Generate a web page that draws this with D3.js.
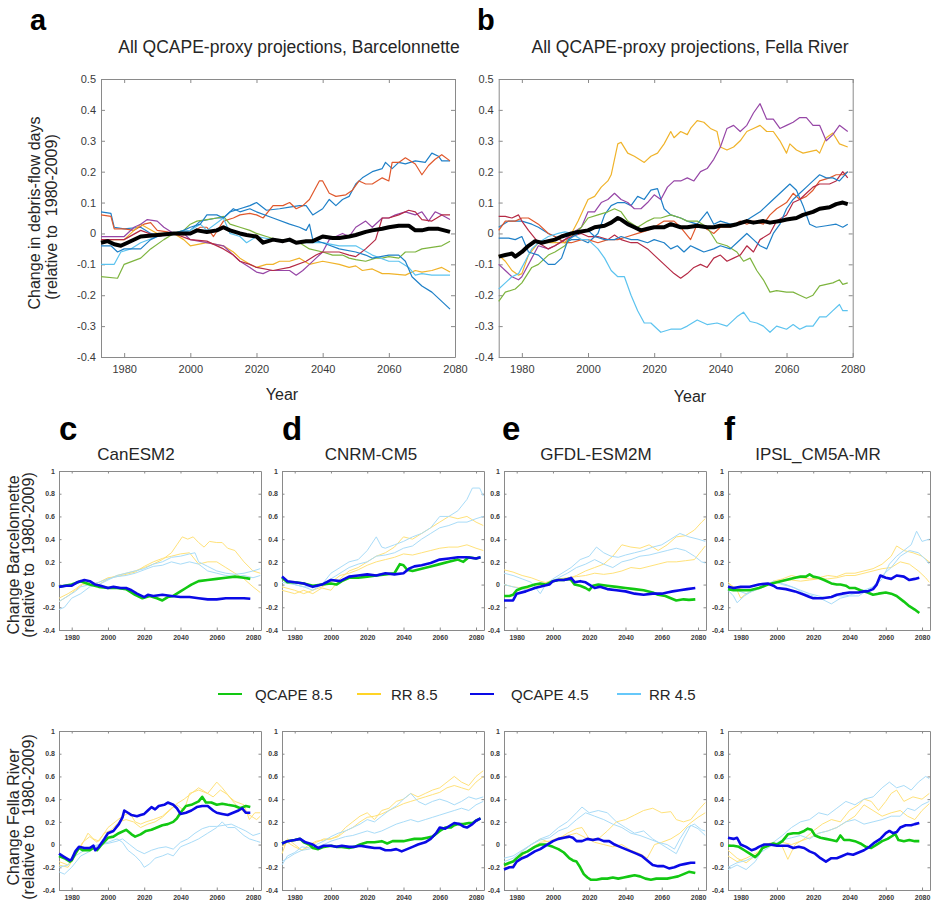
<!DOCTYPE html>
<html>
<head>
<meta charset="utf-8">
<script src="https://cdn.jsdelivr.net/npm/d3@7"></script>
<style>
  body { margin: 0; background: #fff; }
  svg { display: block; }
</style>
</head>
<body>
<div id="chart"></div>
<script>
// ---- data: panel a, all QCAPE-proxy projections, Barcelonnette ----
var barcBlue1 = [[1973,0.07],[1976,0.065],[1977,0.02],[1980,0.015],[1985,0.02],[1988,0],[1990,-0.005],[1995,0],[2000,0.01],[2003,0.04],[2008,0.05],[2010,0.05],[2012,0.07],[2015,0.08],[2018,0.09],[2020,0.1],[2023,0.075],[2027,0.08],[2030,0.085],[2033,0.09],[2035,0.09],[2037,0.06],[2040,0.08],[2042,0.11],[2044,0.09],[2046,0.11],[2048,0.12],[2050,0.16],[2052,0.18],[2055,0.2],[2058,0.21],[2059,0.23],[2061,0.21],[2063,0.23],[2065,0.225],[2068,0.235],[2071,0.23],[2073,0.26],[2075,0.25],[2076,0.235],[2078.5,0.235]];
var barcOrange = [[1973,0.06],[1976,0.055],[1977,0.015],[1980,0.015],[1983,0.01],[1986,0.03],[1988,0.035],[1990,0.01],[1993,0.005],[1995,0],[1998,-0.005],[2000,0],[2003,0.02],[2005,0.02],[2007,-0.01],[2010,0.04],[2013,0.05],[2015,0.06],[2018,0.065],[2020,0.06],[2022,0.05],[2025,0.09],[2028,0.09],[2030,0.1],[2032,0.08],[2034,0.09],[2036,0.11],[2039,0.17],[2040,0.17],[2042,0.13],[2044,0.12],[2047,0.125],[2049,0.14],[2051,0.17],[2053,0.16],[2055,0.16],[2058,0.18],[2060,0.17],[2061,0.23],[2063,0.23],[2065,0.245],[2068,0.225],[2070,0.19],[2072,0.22],[2074,0.24],[2076,0.255],[2078.5,0.235]];
var barcYellow = [[1973,-0.02],[1980,-0.02],[1985,0.03],[1990,0],[1995,0],[1998,-0.02],[2000,-0.04],[2005,-0.03],[2010,-0.04],[2013,-0.06],[2015,-0.08],[2018,-0.1],[2020,-0.11],[2023,-0.1],[2025,-0.1],[2027,-0.09],[2030,-0.09],[2033,-0.08],[2036,-0.1],[2040,-0.09],[2045,-0.1],[2048,-0.11],[2050,-0.105],[2052,-0.12],[2055,-0.115],[2058,-0.13],[2060,-0.13],[2065,-0.135],[2068,-0.12],[2070,-0.125],[2073,-0.12],[2076,-0.11],[2078.5,-0.125]];
var barcPurple = [[1973,-0.01],[1977,-0.01],[1980,-0.01],[1983,0.02],[1985,0.03],[1987,0.045],[1990,0.04],[1992,0.02],[1995,0],[1998,0],[2000,-0.02],[2005,-0.03],[2010,-0.04],[2012,-0.06],[2015,-0.09],[2018,-0.11],[2020,-0.125],[2022,-0.13],[2024,-0.12],[2026,-0.12],[2030,-0.12],[2032,-0.135],[2034,-0.12],[2036,-0.1],[2038,-0.08],[2040,-0.06],[2042,-0.02],[2044,-0.01],[2046,0],[2048,-0.01],[2050,0.02],[2053,0.04],[2055,0.02],[2058,0.05],[2060,0.05],[2062,0.06],[2065,0.07],[2068,0.06],[2070,0.07],[2072,0.04],[2074,0.07],[2076,0.06],[2078.5,0.045]];
var barcGreen = [[1973,-0.14],[1978,-0.145],[1980,-0.1],[1985,-0.08],[1988,-0.05],[1992,-0.02],[1995,0],[1998,0.01],[2000,0.03],[2002,0.04],[2005,0.045],[2008,0.05],[2010,0.055],[2012,0.03],[2015,0.02],[2018,0.01],[2020,0],[2023,-0.01],[2026,-0.02],[2030,-0.02],[2033,-0.03],[2036,-0.05],[2040,-0.06],[2043,-0.07],[2046,-0.07],[2048,-0.08],[2050,-0.085],[2053,-0.09],[2056,-0.08],[2058,-0.08],[2060,-0.075],[2063,-0.08],[2065,-0.06],[2068,-0.06],[2070,-0.05],[2073,-0.045],[2076,-0.04],[2078.5,-0.025]];
var barcLightBlue = [[1973,-0.1],[1977,-0.1],[1979,-0.06],[1982,-0.05],[1985,-0.03],[1990,-0.01],[1995,0],[2000,0.01],[2003,0.03],[2005,0.01],[2010,0.05],[2012,0],[2015,-0.01],[2017,-0.03],[2020,-0.01],[2025,-0.02],[2030,-0.025],[2035,-0.03],[2040,-0.03],[2045,-0.04],[2050,-0.04],[2055,-0.07],[2060,-0.09],[2063,-0.09],[2066,-0.11],[2068,-0.135],[2070,-0.13],[2073,-0.135],[2076,-0.135],[2078.5,-0.135]];
var barcDarkRed = [[1973,-0.02],[1975,-0.02],[1980,-0.02],[1985,0.01],[1990,-0.01],[1995,0],[2000,-0.02],[2005,-0.025],[2010,-0.05],[2013,-0.07],[2015,-0.09],[2018,-0.1],[2020,-0.11],[2025,-0.12],[2030,-0.11],[2035,-0.09],[2038,-0.07],[2040,-0.06],[2045,-0.06],[2048,-0.07],[2050,-0.075],[2053,-0.05],[2056,-0.02],[2058,0.05],[2060,0.05],[2063,0.06],[2066,0.075],[2068,0.07],[2070,0.045],[2073,0.04],[2076,0.06],[2078.5,0.06]];
var barcBlue2 = [[1973,-0.04],[1976,-0.04],[1978,-0.06],[1980,-0.05],[1985,-0.05],[1988,-0.02],[1992,0],[1995,0],[1998,0.01],[2000,0.02],[2003,0.03],[2005,0.06],[2008,0.06],[2010,0.05],[2013,0.08],[2015,0.07],[2018,0.08],[2020,0.07],[2025,0.05],[2030,0.03],[2033,0.02],[2035,0.01],[2036,0.03],[2037,-0.02],[2040,-0.03],[2045,-0.05],[2050,-0.06],[2053,-0.07],[2055,-0.08],[2060,-0.07],[2063,-0.07],[2065,-0.09],[2067,-0.14],[2070,-0.17],[2073,-0.19],[2076,-0.22],[2078.5,-0.245]];
var barcMean = [[1973,-0.03],[1975,-0.025],[1977,-0.035],[1979,-0.04],[1981,-0.03],[1985,-0.01],[1990,-0.005],[1995,0],[2000,0],[2002,0.01],[2005,0.005],[2008,0.01],[2010,0.02],[2012,0.01],[2015,0],[2017,-0.005],[2020,-0.01],[2022,-0.03],[2025,-0.02],[2028,-0.025],[2030,-0.02],[2032,-0.03],[2035,-0.025],[2037,-0.025],[2040,-0.01],[2043,-0.015],[2045,-0.015],[2048,-0.01],[2050,-0.005],[2053,0.005],[2055,0.01],[2058,0.015],[2060,0.02],[2063,0.025],[2066,0.025],[2068,0.01],[2070,0.01],[2072,0.015],[2075,0.015],[2078.5,0.005]];

// ---- data: panel b, all QCAPE-proxy projections, Fella River ----
var fellaBlue1 = [[1973,0.02],[1976,0.04],[1980,0.04],[1983,0.03],[1985,0.02],[1988,0],[1990,-0.01],[1993,-0.03],[1995,-0.02],[1998,-0.02],[2000,-0.03],[2003,0],[2005,0.06],[2007,0.09],[2009,0.1],[2011,0.1],[2013,0.09],[2015,0.12],[2017,0.11],[2019,0.14],[2021,0.145],[2023,0.08],[2025,0.06],[2028,0.05],[2030,0.04],[2033,0.03],[2036,0.07],[2038,0.03],[2040,0.04],[2043,0.03],[2046,0.03],[2049,0.05],[2052,0.07],[2055,0.1],[2058,0.13],[2061,0.16],[2063,0.14],[2065,0.09],[2067,0.03],[2069,0.02],[2072,0.025],[2075,0.03],[2077,0.02],[2078.5,0.03]];
var fellaOrange = [[1973,0.01],[1975,0.04],[1978,0.04],[1980,0.05],[1982,0.05],[1985,0.03],[1988,0],[1990,-0.01],[1993,-0.03],[1995,-0.03],[1998,-0.02],[2000,-0.02],[2003,-0.03],[2006,-0.02],[2009,-0.02],[2012,-0.01],[2015,0],[2018,0.01],[2020,0.02],[2023,0.04],[2026,0.04],[2028,0.02],[2031,-0.02],[2033,0.03],[2035,0.02],[2038,0],[2040,0.02],[2043,0.02],[2046,0.04],[2048,0.03],[2050,0.04],[2053,0.03],[2055,0.06],[2057,0.08],[2060,0.1],[2062,0.13],[2064,0.11],[2066,0.12],[2068,0.14],[2070,0.17],[2073,0.18],[2075,0.19],[2077,0.19],[2078.5,0.2]];
var fellaYellow = [[1973,-0.07],[1975,-0.09],[1977,-0.12],[1979,-0.135],[1980,-0.13],[1982,-0.07],[1985,-0.03],[1990,-0.03],[1993,-0.03],[1995,0],[1997,0.04],[2000,0.11],[2002,0.12],[2004,0.15],[2006,0.17],[2007,0.19],[2009,0.29],[2010,0.295],[2012,0.26],[2014,0.25],[2017,0.23],[2019,0.25],[2021,0.26],[2023,0.29],[2025,0.33],[2026,0.31],[2028,0.33],[2030,0.32],[2031,0.34],[2033,0.365],[2035,0.36],[2037,0.34],[2039,0.33],[2040,0.28],[2042,0.27],[2044,0.28],[2046,0.3],[2048,0.33],[2050,0.34],[2052,0.35],[2054,0.33],[2056,0.33],[2058,0.3],[2060,0.26],[2061,0.29],[2063,0.27],[2065,0.26],[2067,0.265],[2069,0.27],[2070,0.26],[2072,0.31],[2074,0.325],[2076,0.29],[2078.5,0.28]];
var fellaPurple = [[1973,-0.1],[1975,-0.12],[1977,-0.14],[1979,-0.15],[1980,-0.14],[1983,-0.08],[1985,-0.04],[1988,-0.05],[1990,-0.04],[1993,-0.02],[1995,0],[1998,0.02],[2000,0.07],[2002,0.07],[2004,0.1],[2006,0.11],[2008,0.13],[2010,0.11],[2012,0.1],[2014,0.08],[2016,0.08],[2018,0.1],[2020,0.125],[2022,0.11],[2024,0.15],[2026,0.17],[2028,0.17],[2030,0.18],[2032,0.17],[2034,0.2],[2036,0.21],[2038,0.24],[2040,0.28],[2042,0.34],[2044,0.35],[2046,0.33],[2048,0.35],[2050,0.39],[2052,0.42],[2054,0.37],[2056,0.37],[2058,0.34],[2060,0.35],[2062,0.36],[2064,0.375],[2066,0.375],[2068,0.35],[2070,0.35],[2072,0.3],[2074,0.32],[2076,0.35],[2078.5,0.33]];
var fellaGreen = [[1973,-0.22],[1975,-0.19],[1978,-0.18],[1980,-0.16],[1983,-0.11],[1985,-0.1],[1988,-0.07],[1990,-0.06],[1993,-0.04],[1995,-0.01],[1998,0.02],[2000,0.05],[2003,0.06],[2006,0.07],[2008,0.08],[2010,0.07],[2012,0.04],[2015,0.02],[2018,0.04],[2020,0.05],[2022,0.05],[2025,0.06],[2028,0.05],[2030,0.04],[2033,0.04],[2036,0.02],[2039,-0.03],[2042,-0.04],[2045,-0.06],[2047,-0.09],[2049,-0.08],[2051,-0.12],[2053,-0.15],[2055,-0.19],[2057,-0.185],[2060,-0.19],[2062,-0.19],[2064,-0.2],[2066,-0.21],[2068,-0.2],[2070,-0.17],[2072,-0.165],[2074,-0.16],[2076,-0.15],[2077,-0.165],[2078.5,-0.16]];
var fellaLightBlue = [[1973,-0.18],[1975,-0.16],[1977,-0.14],[1979,-0.13],[1981,-0.09],[1983,-0.05],[1985,-0.03],[1988,-0.01],[1991,0],[1993,0.005],[1995,0],[1998,-0.02],[2000,-0.02],[2003,-0.05],[2005,-0.08],[2007,-0.12],[2009,-0.14],[2011,-0.14],[2013,-0.2],[2015,-0.25],[2017,-0.29],[2019,-0.29],[2022,-0.32],[2025,-0.31],[2028,-0.31],[2030,-0.3],[2033,-0.28],[2036,-0.295],[2039,-0.29],[2042,-0.3],[2045,-0.27],[2047,-0.255],[2049,-0.285],[2051,-0.29],[2053,-0.3],[2055,-0.32],[2057,-0.3],[2060,-0.31],[2062,-0.295],[2064,-0.31],[2066,-0.3],[2068,-0.3],[2070,-0.27],[2072,-0.27],[2074,-0.25],[2076,-0.23],[2077,-0.25],[2078.5,-0.25]];
var fellaDarkRed = [[1973,0.055],[1975,0.055],[1977,0.05],[1979,0.06],[1980,0.04],[1982,0.01],[1985,-0.03],[1988,-0.05],[1990,-0.04],[1993,-0.02],[1995,-0.01],[1998,0],[2000,-0.01],[2003,-0.01],[2006,-0.02],[2008,-0.005],[2010,-0.02],[2013,-0.03],[2015,-0.03],[2018,-0.05],[2020,-0.07],[2023,-0.1],[2026,-0.13],[2028,-0.145],[2030,-0.13],[2032,-0.11],[2034,-0.1],[2036,-0.11],[2038,-0.08],[2040,-0.07],[2042,-0.09],[2044,-0.08],[2046,-0.07],[2048,-0.04],[2050,-0.06],[2052,-0.02],[2055,0],[2057,0.04],[2060,0.06],[2062,0.1],[2064,0.11],[2066,0.13],[2068,0.15],[2070,0.16],[2073,0.16],[2075,0.17],[2077,0.2],[2078.5,0.18]];
var fellaBlue2 = [[1973,-0.015],[1976,-0.015],[1978,-0.02],[1980,-0.01],[1982,-0.06],[1985,-0.07],[1988,-0.1],[1990,-0.1],[1992,-0.08],[1994,-0.02],[1997,0],[2000,0.01],[2002,-0.01],[2005,-0.02],[2008,-0.02],[2010,-0.01],[2013,-0.02],[2015,-0.02],[2018,-0.03],[2020,-0.02],[2023,-0.03],[2025,-0.05],[2027,-0.04],[2029,-0.06],[2031,-0.04],[2033,-0.05],[2035,-0.06],[2038,-0.05],[2040,-0.04],[2043,-0.05],[2045,-0.03],[2048,0],[2050,-0.02],[2052,-0.04],[2054,-0.05],[2056,0],[2058,0.03],[2060,0.08],[2062,0.11],[2064,0.13],[2066,0.15],[2068,0.17],[2070,0.19],[2072,0.18],[2074,0.18],[2076,0.17],[2078.5,0.2]];
var fellaMean = [[1973,-0.075],[1975,-0.07],[1977,-0.065],[1978,-0.075],[1980,-0.06],[1982,-0.04],[1984,-0.025],[1986,-0.03],[1988,-0.025],[1990,-0.02],[1992,-0.01],[1995,0],[1997,0.005],[2000,0.01],[2002,0.02],[2005,0.025],[2007,0.035],[2009,0.05],[2010,0.045],[2012,0.03],[2014,0.02],[2016,0.01],[2018,0.015],[2020,0.02],[2023,0.02],[2025,0.03],[2028,0.02],[2030,0.02],[2033,0.025],[2036,0.02],[2038,0.02],[2040,0.025],[2043,0.025],[2045,0.03],[2048,0.04],[2050,0.035],[2053,0.04],[2055,0.035],[2058,0.04],[2060,0.045],[2063,0.05],[2065,0.06],[2068,0.07],[2070,0.08],[2073,0.085],[2075,0.095],[2077,0.1],[2078.5,0.095]];

// ---- data: per model panels (q85 = QCAPE 8.5, q45 = QCAPE 4.5, rr85 / rr45 = RR pairs) ----
var canBarcQ85 = [[1973,-0.02],[1980,0],[1985,0.03],[1990,0],[1995,-0.02],[2000,-0.03],[2005,-0.03],[2010,-0.04],[2015,-0.09],[2019,-0.12],[2023,-0.1],[2027,-0.12],[2030,-0.14],[2033,-0.11],[2036,-0.1],[2040,-0.06],[2043,-0.03],[2046,0],[2050,0.03],[2055,0.04],[2060,0.05],[2065,0.06],[2070,0.07],[2075,0.06],[2078.5,0.05]];
var canBarcQ45 = [[1973,-0.02],[1977,-0.01],[1980,-0.01],[1983,0.02],[1987,0.04],[1990,0.03],[1993,0],[1996,-0.01],[2000,-0.03],[2003,-0.02],[2007,-0.03],[2010,-0.03],[2013,-0.05],[2016,-0.08],[2020,-0.11],[2022,-0.09],[2025,-0.1],[2030,-0.09],[2035,-0.1],[2040,-0.11],[2045,-0.11],[2050,-0.12],[2055,-0.13],[2060,-0.13],[2065,-0.12],[2070,-0.12],[2075,-0.12],[2078.5,-0.125]];
var canBarcRR85a = [[1973,-0.15],[1978,-0.1],[1982,-0.05],[1986,0],[1990,0.02],[1995,0],[2000,0.05],[2005,0.08],[2010,0.1],[2015,0.12],[2020,0.15],[2025,0.18],[2030,0.22],[2035,0.28],[2038,0.35],[2041,0.42],[2044,0.4],[2047,0.42],[2050,0.37],[2053,0.33],[2056,0.38],[2060,0.37],[2063,0.37],[2066,0.32],[2070,0.3],[2075,0.2],[2080,0.12],[2084,0.1]];
var canBarcRR85b = [[1973,-0.12],[1978,-0.08],[1982,-0.04],[1986,0.01],[1990,0],[1995,0.02],[2000,0.06],[2005,0.07],[2010,0.09],[2015,0.11],[2020,0.16],[2025,0.2],[2030,0.23],[2035,0.25],[2040,0.27],[2045,0.28],[2050,0.18],[2055,0.2],[2060,0.2],[2065,0.15],[2070,0.1],[2075,0.05],[2080,-0.02],[2084,-0.07]];
var canBarcRR45a = [[1973,-0.22],[1976,-0.2],[1980,-0.12],[1985,-0.08],[1990,-0.02],[1995,0],[2000,0.04],[2005,0.08],[2010,0.1],[2015,0.12],[2020,0.14],[2025,0.18],[2030,0.2],[2035,0.24],[2040,0.25],[2045,0.27],[2048,0.28],[2050,0.2],[2055,0.16],[2060,0.12],[2065,0.1],[2070,0.09],[2075,0.1],[2080,0.12],[2084,0.14]];
var canBarcRR45b = [[1973,-0.15],[1978,-0.1],[1982,-0.06],[1985,-0.02],[1990,0],[1995,0.02],[2000,0.05],[2005,0.07],[2010,0.08],[2015,0.1],[2020,0.13],[2025,0.16],[2030,0.17],[2035,0.2],[2040,0.18],[2045,0.2],[2050,0.18],[2055,0.12],[2060,0.1],[2065,0.08],[2070,0.07],[2075,0.08],[2080,0.06],[2084,0.08]];

var cnrmBarcQ85 = [[1973,0.06],[1976,0.02],[1980,0.02],[1985,0.01],[1990,-0.01],[1995,0],[2000,0.01],[2003,0],[2006,0.03],[2010,0.06],[2015,0.06],[2020,0.07],[2025,0.08],[2030,0.09],[2035,0.1],[2038,0.18],[2040,0.17],[2042,0.13],[2045,0.12],[2050,0.14],[2055,0.16],[2060,0.18],[2065,0.2],[2070,0.22],[2073,0.2],[2076,0.24],[2080,0.23],[2082.5,0.24]];
var cnrmBarcQ45 = [[1973,0.07],[1976,0.03],[1980,0.02],[1985,0.01],[1990,-0.02],[1995,0],[2000,0.04],[2005,0.03],[2010,0.07],[2015,0.08],[2020,0.09],[2025,0.08],[2030,0.1],[2035,0.09],[2040,0.1],[2043,0.14],[2046,0.16],[2050,0.17],[2055,0.19],[2060,0.22],[2065,0.23],[2070,0.24],[2075,0.24],[2080,0.23],[2082.5,0.24]];
var cnrmBarcRR85a = [[1973,-0.05],[1980,-0.08],[1985,-0.05],[1990,-0.08],[1995,-0.03],[2000,-0.05],[2005,0.05],[2010,0.12],[2015,0.15],[2020,0.2],[2025,0.25],[2030,0.28],[2035,0.33],[2040,0.42],[2045,0.4],[2050,0.45],[2055,0.5],[2060,0.55],[2065,0.6],[2070,0.58],[2075,0.6],[2080,0.55],[2084,0.52]];
var cnrmBarcRR85b = [[1973,-0.02],[1980,-0.05],[1985,-0.08],[1990,-0.05],[1995,-0.02],[2000,0.02],[2005,0.08],[2010,0.1],[2015,0.13],[2020,0.17],[2025,0.2],[2030,0.22],[2035,0.24],[2040,0.27],[2045,0.26],[2050,0.28],[2055,0.3],[2060,0.32],[2065,0.33],[2070,0.33],[2075,0.35],[2080,0.32],[2084,0.3]];
var cnrmBarcRR45a = [[1973,0.02],[1980,0],[1985,-0.02],[1990,-0.05],[1995,0],[2000,0.1],[2005,0.15],[2010,0.2],[2015,0.22],[2020,0.3],[2025,0.42],[2028,0.33],[2030,0.32],[2035,0.35],[2040,0.38],[2045,0.42],[2050,0.45],[2055,0.5],[2060,0.6],[2065,0.6],[2070,0.65],[2075,0.75],[2078,0.85],[2082,0.85],[2084,0.78]];
var cnrmBarcRR45b = [[1973,0.05],[1980,0],[1985,-0.02],[1990,-0.02],[1995,0],[2000,0.05],[2005,0.1],[2010,0.15],[2015,0.18],[2020,0.2],[2025,0.25],[2030,0.26],[2035,0.28],[2040,0.32],[2045,0.34],[2050,0.4],[2055,0.45],[2060,0.5],[2065,0.52],[2070,0.55],[2075,0.55],[2080,0.58],[2084,0.6]];

var gfdlBarcQ85 = [[1973,-0.1],[1976,-0.1],[1978,-0.09],[1980,-0.05],[1983,-0.03],[1986,-0.02],[1990,0],[1993,0.01],[1996,0],[2000,0.03],[2003,0.04],[2006,0.04],[2009,0.05],[2010,0.04],[2012,0],[2015,-0.01],[2018,-0.03],[2020,-0.05],[2022,-0.01],[2025,0],[2030,-0.01],[2035,-0.02],[2040,-0.03],[2045,-0.04],[2050,-0.05],[2055,-0.07],[2058,-0.09],[2062,-0.1],[2065,-0.12],[2068,-0.14],[2072,-0.13],[2075,-0.135],[2078.5,-0.13]];
var gfdlBarcQ45 = [[1973,-0.14],[1976,-0.14],[1978,-0.14],[1980,-0.08],[1985,-0.06],[1990,-0.03],[1995,-0.01],[1998,0],[2000,0.03],[2003,0.04],[2006,0.04],[2009,0.05],[2010,0.06],[2012,0.02],[2015,0.03],[2018,0.02],[2020,0],[2023,-0.03],[2026,-0.02],[2030,-0.04],[2035,-0.05],[2040,-0.06],[2045,-0.08],[2050,-0.09],[2055,-0.08],[2060,-0.08],[2063,-0.07],[2066,-0.06],[2070,-0.05],[2074,-0.04],[2078.5,-0.03]];
var gfdlBarcRR85a = [[1973,0.13],[1978,0.11],[1983,0.08],[1988,0.06],[1993,0.03],[1998,0.01],[2003,0.04],[2008,0.05],[2013,0.08],[2018,0.12],[2023,0.15],[2028,0.18],[2033,0.25],[2038,0.35],[2043,0.33],[2048,0.32],[2053,0.35],[2058,0.3],[2063,0.35],[2068,0.42],[2073,0.43],[2078,0.48],[2082,0.55],[2084,0.58]];
var gfdlBarcRR85b = [[1973,0],[1978,-0.02],[1983,-0.03],[1988,-0.04],[1993,0],[1998,0.03],[2003,0.05],[2008,0.06],[2013,0.07],[2018,0.08],[2023,0.1],[2028,0.09],[2033,0.1],[2038,0.12],[2043,0.15],[2048,0.14],[2053,0.16],[2058,0.18],[2063,0.2],[2068,0.2],[2073,0.21],[2078,0.22],[2082,0.3],[2084,0.34]];
var gfdlBarcRR45a = [[1973,0.1],[1978,0.08],[1983,0.05],[1988,0.02],[1993,-0.08],[1996,0],[2000,0.05],[2005,0.1],[2010,0.15],[2015,0.22],[2020,0.25],[2024,0.33],[2028,0.28],[2032,0.25],[2036,0.24],[2040,0.26],[2045,0.28],[2050,0.3],[2055,0.33],[2060,0.35],[2065,0.4],[2070,0.45],[2075,0.42],[2080,0.4],[2084,0.38]];
var gfdlBarcRR45b = [[1973,0],[1978,-0.02],[1983,-0.04],[1988,-0.05],[1993,-0.02],[1998,0.02],[2003,0.06],[2008,0.1],[2013,0.15],[2018,0.18],[2023,0.22],[2028,0.18],[2033,0.15],[2038,0.2],[2043,0.22],[2048,0.25],[2053,0.26],[2058,0.28],[2063,0.3],[2068,0.32],[2073,0.3],[2078,0.25],[2082,0.2],[2084,0.19]];

var ipslBarcQ85 = [[1973,-0.04],[1976,-0.05],[1980,-0.05],[1985,-0.05],[1990,-0.03],[1995,0],[2000,0.02],[2005,0.04],[2010,0.06],[2013,0.07],[2016,0.07],[2018,0.09],[2020,0.07],[2023,0.06],[2026,0.04],[2030,0.01],[2033,0],[2035,0],[2038,-0.01],[2040,-0.03],[2043,-0.03],[2046,-0.05],[2050,-0.07],[2053,-0.09],[2056,-0.08],[2060,-0.07],[2063,-0.08],[2066,-0.1],[2070,-0.15],[2073,-0.19],[2076,-0.22],[2078.5,-0.25]];
var ipslBarcQ45 = [[1973,-0.02],[1976,-0.03],[1980,-0.02],[1985,-0.02],[1990,0],[1995,0.01],[1998,-0.01],[2000,-0.03],[2005,-0.04],[2010,-0.06],[2015,-0.09],[2018,-0.11],[2020,-0.12],[2025,-0.12],[2030,-0.11],[2033,-0.09],[2036,-0.08],[2040,-0.07],[2045,-0.07],[2048,-0.06],[2050,-0.06],[2053,-0.04],[2055,0],[2057,0.08],[2060,0.06],[2063,0.05],[2066,0.08],[2070,0.07],[2073,0.04],[2076,0.05],[2078.5,0.06]];
var ipslBarcRR85a = [[1973,0.02],[1978,-0.05],[1980,-0.12],[1983,-0.08],[1988,-0.05],[1993,-0.02],[1998,0.03],[2003,0.05],[2008,0.08],[2013,0.06],[2018,0.05],[2023,0.06],[2028,0.08],[2033,0.07],[2038,0.1],[2043,0.1],[2048,0.12],[2053,0.14],[2058,0.18],[2063,0.25],[2066,0.34],[2070,0.3],[2075,0.28],[2080,0.25],[2084,0.2]];
var ipslBarcRR85b = [[1973,0],[1978,-0.03],[1983,-0.05],[1988,-0.04],[1993,-0.01],[1998,0.02],[2003,0.04],[2008,0.04],[2013,0.03],[2018,0.04],[2023,0.05],[2028,0.05],[2033,0.06],[2038,0.08],[2043,0.08],[2048,0.1],[2053,0.12],[2058,0.14],[2063,0.15],[2068,0.2],[2073,0.18],[2078,0.12],[2082,0.06],[2084,0.02]];
var ipslBarcRR45a = [[1973,-0.05],[1976,-0.1],[1978,-0.16],[1982,-0.1],[1986,-0.06],[1990,-0.03],[1995,0],[2000,0.02],[2005,0],[2010,-0.03],[2015,-0.08],[2020,-0.1],[2025,-0.13],[2030,-0.17],[2035,-0.12],[2040,-0.1],[2045,-0.1],[2050,-0.05],[2055,0],[2058,0.05],[2062,0.18],[2066,0.25],[2070,0.3],[2074,0.35],[2077,0.47],[2080,0.38],[2084,0.4]];
var ipslBarcRR45b = [[1973,0],[1978,-0.05],[1983,-0.08],[1988,-0.05],[1993,-0.02],[1998,0.03],[2003,0],[2008,-0.02],[2013,-0.05],[2018,-0.08],[2023,-0.1],[2028,-0.12],[2033,-0.1],[2038,-0.1],[2043,-0.08],[2048,-0.05],[2053,-0.02],[2058,0.08],[2063,0.15],[2068,0.25],[2073,0.3],[2078,0.28],[2082,0.22],[2084,0.18]];

var canFellaQ85 = [[1973,-0.1],[1976,-0.12],[1979,-0.15],[1980,-0.14],[1982,-0.08],[1984,-0.03],[1986,-0.05],[1990,-0.05],[1992,-0.03],[1994,-0.05],[1996,-0.01],[2000,0.06],[2003,0.07],[2006,0.1],[2010,0.13],[2013,0.09],[2015,0.07],[2018,0.09],[2021,0.12],[2024,0.13],[2027,0.15],[2030,0.17],[2033,0.18],[2036,0.2],[2038,0.23],[2040,0.28],[2043,0.34],[2046,0.35],[2050,0.38],[2052,0.42],[2054,0.37],[2057,0.37],[2060,0.35],[2063,0.36],[2066,0.35],[2070,0.34],[2073,0.32],[2076,0.34],[2078.5,0.33]];
var canFellaQ45 = [[1973,-0.08],[1976,-0.11],[1979,-0.14],[1980,-0.13],[1982,-0.06],[1984,-0.02],[1987,-0.03],[1990,-0.03],[1992,-0.01],[1993,-0.05],[1995,-0.02],[1998,0.05],[2000,0.1],[2003,0.12],[2006,0.18],[2008,0.24],[2009,0.3],[2011,0.28],[2013,0.26],[2016,0.25],[2018,0.26],[2020,0.27],[2022,0.3],[2024,0.33],[2026,0.31],[2028,0.34],[2031,0.35],[2033,0.37],[2036,0.35],[2038,0.32],[2040,0.27],[2043,0.28],[2046,0.3],[2049,0.33],[2052,0.34],[2055,0.34],[2058,0.3],[2060,0.28],[2063,0.27],[2066,0.26],[2069,0.28],[2072,0.3],[2074,0.32],[2076,0.28],[2078.5,0.28]];
var canFellaRR85a = [[1973,-0.15],[1978,-0.18],[1982,-0.08],[1985,-0.02],[1989,0.1],[1992,0.05],[1995,0.03],[2000,0.15],[2004,0.2],[2008,0.25],[2012,0.28],[2015,0.2],[2018,0.18],[2021,0.2],[2025,0.22],[2030,0.25],[2035,0.32],[2038,0.35],[2042,0.3],[2045,0.45],[2050,0.48],[2055,0.45],[2060,0.55],[2063,0.5],[2067,0.42],[2070,0.38],[2075,0.35],[2078,0.22],[2081,0.28],[2084,0.28]];
var canFellaRR85b = [[1973,-0.18],[1978,-0.2],[1982,-0.1],[1986,0.02],[1990,0.07],[1994,0.02],[1998,0.1],[2002,0.13],[2006,0.2],[2010,0.22],[2014,0.2],[2018,0.15],[2022,0.18],[2026,0.2],[2030,0.24],[2034,0.3],[2038,0.36],[2042,0.4],[2046,0.45],[2050,0.5],[2054,0.46],[2058,0.42],[2062,0.48],[2066,0.44],[2070,0.36],[2074,0.3],[2078,0.26],[2082,0.22],[2084,0.25]];
var canFellaRR45a = [[1973,-0.24],[1976,-0.26],[1980,-0.2],[1985,-0.1],[1990,-0.06],[1995,0],[2000,0.02],[2005,0.05],[2008,0.02],[2011,-0.05],[2015,-0.1],[2018,-0.15],[2020,-0.2],[2023,-0.17],[2026,-0.12],[2030,-0.1],[2033,-0.08],[2036,-0.1],[2040,-0.02],[2043,0],[2046,0.02],[2050,0.05],[2055,0.1],[2060,0.15],[2063,0.2],[2066,0.15],[2070,0.15],[2075,0.08],[2078,0.05],[2082,0.03],[2084,0.02]];
var canFellaRR45b = [[1973,-0.2],[1978,-0.18],[1982,-0.1],[1986,-0.06],[1990,-0.02],[1995,0],[2000,0.01],[2005,0.03],[2008,0.05],[2012,0],[2016,-0.05],[2020,-0.08],[2024,-0.05],[2028,-0.03],[2032,-0.02],[2036,-0.04],[2040,0.02],[2044,0.05],[2048,0.1],[2052,0.14],[2056,0.16],[2060,0.16],[2064,0.17],[2068,0.18],[2072,0.15],[2076,0.12],[2080,0.08],[2084,0.1]];

var cnrmFellaQ85 = [[1973,0.01],[1976,0.03],[1980,0.04],[1983,0.05],[1985,0.02],[1988,0],[1990,-0.03],[1993,-0.04],[1996,-0.02],[2000,-0.01],[2003,-0.02],[2006,-0.02],[2010,-0.03],[2013,-0.02],[2016,0],[2020,0.02],[2024,0.02],[2028,0.03],[2031,0.01],[2034,0.03],[2037,0.03],[2040,0.03],[2043,0.04],[2046,0.05],[2050,0.05],[2053,0.06],[2056,0.07],[2060,0.12],[2063,0.15],[2066,0.15],[2068,0.17],[2070,0.18],[2073,0.18],[2076,0.19],[2078,0.19],[2080,0.21],[2082.5,0.23]];
var cnrmFellaQ45 = [[1973,0.01],[1976,0.03],[1980,0.04],[1983,0.05],[1986,0.02],[1990,0],[1993,-0.03],[1996,-0.01],[2000,-0.01],[2003,-0.02],[2006,-0.01],[2010,-0.02],[2013,-0.02],[2016,-0.01],[2020,-0.02],[2024,-0.03],[2027,-0.03],[2030,-0.05],[2033,-0.05],[2036,-0.04],[2039,-0.06],[2042,-0.04],[2045,-0.02],[2048,0],[2052,0.02],[2055,0.05],[2058,0.1],[2060,0.15],[2063,0.14],[2066,0.17],[2068,0.19],[2071,0.18],[2073,0.16],[2075,0.15],[2078,0.18],[2080,0.21],[2082.5,0.23]];
var cnrmFellaRR85a = [[1973,-0.08],[1976,0.05],[1980,0],[1984,-0.05],[1988,-0.02],[1992,0.02],[1996,0.05],[2000,0.05],[2004,0.08],[2008,0.15],[2012,0.2],[2016,0.25],[2020,0.28],[2024,0.22],[2028,0.3],[2032,0.32],[2036,0.38],[2040,0.4],[2044,0.45],[2048,0.42],[2052,0.45],[2056,0.48],[2060,0.5],[2064,0.55],[2068,0.6],[2072,0.55],[2076,0.52],[2080,0.6],[2084,0.65]];
var cnrmFellaRR85b = [[1973,-0.02],[1976,0.02],[1980,-0.02],[1984,-0.05],[1988,0],[1992,0.03],[1996,0.04],[2000,0.05],[2004,0.07],[2008,0.12],[2012,0.15],[2016,0.2],[2020,0.24],[2024,0.25],[2028,0.27],[2032,0.3],[2036,0.33],[2040,0.36],[2044,0.38],[2048,0.4],[2052,0.42],[2056,0.44],[2060,0.46],[2064,0.5],[2068,0.52],[2072,0.5],[2076,0.48],[2080,0.55],[2084,0.6]];
var cnrmFellaRR45a = [[1973,-0.18],[1976,-0.1],[1980,-0.07],[1984,-0.02],[1988,-0.03],[1992,0],[1996,0.03],[2000,0.07],[2004,0.1],[2008,0.12],[2012,0.15],[2016,0.18],[2020,0.22],[2024,0.2],[2028,0.25],[2032,0.3],[2036,0.34],[2040,0.4],[2044,0.45],[2048,0.38],[2052,0.35],[2056,0.38],[2060,0.4],[2064,0.38],[2068,0.35],[2072,0.38],[2076,0.42],[2080,0.4],[2084,0.42]];
var cnrmFellaRR45b = [[1973,-0.15],[1976,-0.12],[1980,-0.08],[1984,-0.05],[1988,-0.04],[1992,-0.02],[1996,0],[2000,0.03],[2004,0.05],[2008,0.07],[2012,0.08],[2016,0.1],[2020,0.12],[2024,0.1],[2028,0.12],[2032,0.15],[2036,0.18],[2040,0.2],[2044,0.22],[2048,0.2],[2052,0.22],[2056,0.24],[2060,0.26],[2064,0.28],[2068,0.3],[2072,0.32],[2076,0.3],[2080,0.35],[2084,0.38]];

var gfdlFellaQ85 = [[1973,-0.18],[1976,-0.16],[1978,-0.15],[1980,-0.12],[1983,-0.08],[1986,-0.06],[1990,-0.02],[1993,0],[1996,0],[2000,-0.02],[2003,-0.04],[2006,-0.07],[2009,-0.12],[2011,-0.14],[2013,-0.15],[2015,-0.2],[2017,-0.26],[2019,-0.29],[2021,-0.31],[2024,-0.31],[2027,-0.3],[2030,-0.3],[2033,-0.29],[2036,-0.3],[2039,-0.29],[2042,-0.28],[2045,-0.27],[2048,-0.28],[2051,-0.3],[2054,-0.31],[2057,-0.3],[2060,-0.3],[2063,-0.3],[2066,-0.29],[2069,-0.28],[2072,-0.26],[2075,-0.24],[2078.5,-0.25]];
var gfdlFellaQ45 = [[1973,-0.22],[1976,-0.2],[1978,-0.2],[1980,-0.15],[1983,-0.12],[1986,-0.1],[1990,-0.06],[1993,-0.04],[1996,-0.01],[2000,0.03],[2003,0.05],[2006,0.06],[2009,0.07],[2011,0.06],[2013,0.03],[2016,0.03],[2019,0.05],[2022,0.04],[2025,0.05],[2028,0.03],[2031,0.03],[2034,0],[2037,-0.02],[2040,-0.04],[2043,-0.06],[2046,-0.08],[2049,-0.1],[2052,-0.14],[2055,-0.18],[2058,-0.19],[2061,-0.19],[2064,-0.21],[2067,-0.2],[2070,-0.18],[2073,-0.17],[2076,-0.16],[2078.5,-0.16]];
var gfdlFellaRR85a = [[1973,-0.2],[1978,-0.15],[1983,-0.06],[1988,0],[1993,0.05],[1998,0.02],[2003,0.05],[2008,0.1],[2013,0.14],[2016,0.15],[2020,0.05],[2025,0.05],[2030,0.12],[2035,0.2],[2040,0.22],[2045,0.26],[2050,0.3],[2055,0.32],[2060,0.28],[2065,0.29],[2068,0.22],[2072,0.2],[2076,0.22],[2080,0.3],[2084,0.37]];
var gfdlFellaRR85b = [[1973,-0.22],[1978,-0.18],[1983,-0.1],[1988,-0.03],[1993,0.02],[1998,0.03],[2003,0.06],[2008,0.08],[2013,0.1],[2018,0.06],[2023,0.02],[2028,0],[2033,-0.02],[2038,0],[2043,-0.05],[2048,-0.08],[2052,-0.12],[2056,0],[2060,0.02],[2065,0.05],[2070,0.1],[2075,0.18],[2080,0.24],[2084,0.28]];
var gfdlFellaRR45a = [[1973,-0.15],[1978,-0.12],[1983,-0.06],[1988,0],[1993,0.05],[1998,0.08],[2003,0.15],[2008,0.2],[2013,0.28],[2016,0.33],[2020,0.28],[2025,0.3],[2030,0.28],[2035,0.2],[2040,0.15],[2045,0.1],[2050,0.12],[2055,0.05],[2060,0],[2065,-0.05],[2068,-0.08],[2072,0.05],[2076,0.17],[2080,0.14],[2084,0.08]];
var gfdlFellaRR45b = [[1973,-0.12],[1978,-0.1],[1983,-0.05],[1988,0],[1993,0.04],[1998,0.06],[2003,0.12],[2008,0.15],[2013,0.22],[2018,0.28],[2023,0.25],[2028,0.22],[2033,0.18],[2038,0.15],[2043,0.1],[2048,0.08],[2053,0.05],[2058,0.02],[2063,0],[2067,-0.04],[2070,0.05],[2074,0.15],[2078,0.18],[2082,0.13],[2084,0.12]];

var ipslFellaQ85 = [[1973,-0.01],[1976,-0.01],[1979,-0.02],[1982,-0.05],[1985,-0.08],[1988,-0.11],[1990,-0.08],[1992,-0.03],[1995,-0.01],[1998,0.01],[2000,0],[2003,0.03],[2006,0.09],[2009,0.1],[2012,0.1],[2015,0.12],[2017,0.14],[2019,0.13],[2021,0.08],[2024,0.06],[2027,0.05],[2030,0.04],[2033,0.03],[2035,0.08],[2037,0.04],[2040,0.04],[2043,0.03],[2046,0.01],[2049,-0.02],[2052,-0.03],[2055,0],[2058,0.03],[2061,0.05],[2064,0.08],[2065,0.1],[2067,0.04],[2070,0.03],[2073,0.04],[2076,0.03],[2078.5,0.03]];
var ipslFellaQ45 = [[1973,0.06],[1976,0.05],[1978,0.06],[1980,0],[1983,-0.02],[1986,-0.05],[1988,-0.04],[1990,-0.02],[1993,0],[1996,0],[2000,-0.01],[2003,-0.01],[2006,-0.01],[2009,-0.03],[2012,-0.02],[2015,-0.03],[2018,-0.06],[2021,-0.08],[2024,-0.12],[2027,-0.15],[2030,-0.12],[2033,-0.12],[2036,-0.1],[2039,-0.08],[2042,-0.09],[2045,-0.07],[2048,-0.05],[2051,-0.02],[2054,0.02],[2057,0.05],[2060,0.1],[2062,0.12],[2064,0.1],[2066,0.11],[2068,0.15],[2071,0.17],[2074,0.17],[2076,0.18],[2078.5,0.19]];
var ipslFellaRR85a = [[1973,-0.05],[1978,-0.12],[1983,-0.16],[1988,-0.1],[1993,0],[1998,0.02],[2003,-0.02],[2006,-0.13],[2010,0],[2015,0.05],[2020,0.12],[2025,0.18],[2030,0.22],[2035,0.2],[2040,0.3],[2045,0.35],[2048,0.4],[2052,0.38],[2056,0.3],[2060,0.38],[2063,0.45],[2066,0.48],[2070,0.38],[2075,0.42],[2080,0.4],[2084,0.45]];
var ipslFellaRR85b = [[1973,-0.1],[1978,-0.15],[1983,-0.12],[1988,-0.08],[1993,-0.03],[1998,0],[2003,0.02],[2008,0],[2013,0.03],[2018,0.06],[2023,0.1],[2028,0.12],[2033,0.15],[2038,0.2],[2043,0.25],[2048,0.35],[2053,0.3],[2058,0.25],[2063,0.28],[2068,0.3],[2072,0.25],[2076,0.22],[2080,0.3],[2084,0.36]];
var ipslFellaRR45a = [[1973,-0.22],[1978,-0.18],[1983,-0.22],[1988,-0.15],[1993,-0.02],[1998,0.02],[2003,0.08],[2008,0.15],[2013,0.2],[2018,0.22],[2023,0.28],[2028,0.26],[2033,0.32],[2038,0.38],[2043,0.35],[2048,0.4],[2053,0.42],[2058,0.5],[2062,0.55],[2066,0.5],[2070,0.52],[2074,0.48],[2078,0.55],[2082,0.6],[2084,0.58]];
var ipslFellaRR45b = [[1973,-0.2],[1978,-0.16],[1983,-0.14],[1988,-0.1],[1993,-0.05],[1998,0],[2003,0.04],[2008,0.06],[2013,0.08],[2018,0.05],[2023,0.1],[2028,0.12],[2033,0.15],[2038,0.2],[2043,0.22],[2048,0.18],[2053,0.2],[2058,0.22],[2063,0.25],[2068,0.25],[2072,0.32],[2076,0.3],[2080,0.35],[2084,0.38]];

// tick values and labels
var bigYTicks = [-0.4,-0.3,-0.2,-0.1,0,0.1,0.2,0.3,0.4,0.5];
var smallYTicks = [-0.4,-0.2,0,0.2,0.4,0.6,0.8,1];
var yearTicks = [1980,2000,2020,2040,2060,2080];
var modelNames = ["CanESM2","CNRM-CM5","GFDL-ESM2M","IPSL_CM5A-MR"];
var legendLabels = ["QCAPE 8.5","RR 8.5","QCAPE 4.5","RR 4.5"];

// ---- drawing ----
var W = 931, H = 902;
var FONT = "'Liberation Sans', Arial, Helvetica, sans-serif";
var AXIS_GREY = "#8a8a8a", LABEL_GREY = "#3a3a3a";

// MATLAB-ish default line order
var mlColors = {blue:"#1f80c8", orange:"#e0582c", yellow:"#f0b32a", purple:"#9646a6",
  green:"#7db43e", lightblue:"#5cc3ef", darkred:"#b52a45"};
var scenColors = {q85:"#12c812", rr85:"#ffe27a", q45:"#0a0ae6", rr45:"#a9dcf8"};
var legendColors = ["#12c812","#ffd426","#0a0ae6","#66c8fa"];

var svg = d3.select("#chart").append("svg")
  .attr("width", W).attr("height", H)
  .style("font-family", FONT);
svg.append("rect").attr("width", W).attr("height", H).attr("fill", "#fff");

function fmtTick(v){ return v === 0 ? "0" : String(+v.toFixed(1)); }

// builds a boxed axes with inward ticks on all four sides, returns the scales
function makeAxes(cfg){
  var x = d3.scaleLinear().domain(cfg.xDomain).range([cfg.left, cfg.left + cfg.width]);
  var y = d3.scaleLinear().domain(cfg.yDomain).range([cfg.top + cfg.height, cfg.top]);
  var g = svg.append("g");
  g.append("rect").attr("x", cfg.left).attr("y", cfg.top)
    .attr("width", cfg.width).attr("height", cfg.height).attr("fill", "#fff");

  var tl = cfg.tickLen;
  var bottom = g.append("g").attr("transform", "translate(0," + (cfg.top + cfg.height) + ")")
    .call(d3.axisBottom(x).tickValues(yearTicks).tickSize(-tl).tickSizeOuter(0).tickPadding(cfg.xPad).tickFormat(d3.format("d")));
  var top = g.append("g").attr("transform", "translate(0," + cfg.top + ")")
    .call(d3.axisTop(x).tickValues(yearTicks).tickSize(-tl).tickSizeOuter(0).tickFormat(""));
  var left = g.append("g").attr("transform", "translate(" + cfg.left + ",0)")
    .call(d3.axisLeft(y).tickValues(cfg.yTicks).tickSize(-tl).tickSizeOuter(0).tickPadding(cfg.yPad).tickFormat(fmtTick));
  var right = g.append("g").attr("transform", "translate(" + (cfg.left + cfg.width) + ",0)")
    .call(d3.axisRight(y).tickValues(cfg.yTicks).tickSize(-tl).tickSizeOuter(0).tickFormat(""));

  [bottom, top, left, right].forEach(function(a){
    a.select(".domain").attr("stroke", AXIS_GREY).attr("stroke-width", 1);
    a.selectAll(".tick line").attr("stroke", AXIS_GREY);
    a.selectAll(".tick text").attr("fill", LABEL_GREY)
      .style("font-family", FONT).style("font-size", cfg.fontSize + "px")
      .style("font-weight", cfg.bold ? "bold" : "normal");
  });
  return {x: x, y: y, g: g};
}

function drawLine(ax, data, color, width, opacity){
  var line = d3.line().x(function(d){ return ax.x(d[0]); }).y(function(d){ return ax.y(d[1]); });
  ax.g.append("path").datum(data)
    .attr("d", line).attr("fill", "none")
    .attr("stroke", color).attr("stroke-width", width)
    .attr("stroke-opacity", opacity == null ? 1 : opacity)
    .attr("stroke-linejoin", "round");
}

function addText(x, y, txt, size, opts){
  opts = opts || {};
  var t = svg.append("text").attr("x", x).attr("y", y).text(txt)
    .attr("font-size", size).attr("fill", opts.fill || "#262626")
    .attr("text-anchor", opts.anchor || "middle")
    .attr("font-weight", opts.bold ? "bold" : "normal");
  if (opts.rotate) t.attr("transform", "rotate(-90," + x + "," + y + ")");
  return t;
}

// ---- panels a and b ----
var bigCfg = {top: 79, width: 354, height: 278, xDomain: [1973, 2080], yDomain: [-0.4, 0.5],
  yTicks: bigYTicks, tickLen: 4, xPad: 8, yPad: 5, fontSize: 11, bold: false};

var axA = makeAxes(Object.assign({left: 101}, bigCfg));
[[barcBlue1,"blue"],[barcOrange,"orange"],[barcYellow,"yellow"],[barcPurple,"purple"],
 [barcGreen,"green"],[barcLightBlue,"lightblue"],[barcDarkRed,"darkred"],[barcBlue2,"blue"]]
  .forEach(function(s){ drawLine(axA, s[0], mlColors[s[1]], 1.2); });
drawLine(axA, barcMean, "#000", 4);

var axB = makeAxes(Object.assign({left: 498.7}, bigCfg));
[[fellaBlue1,"blue"],[fellaOrange,"orange"],[fellaYellow,"yellow"],[fellaPurple,"purple"],
 [fellaGreen,"green"],[fellaLightBlue,"lightblue"],[fellaDarkRed,"darkred"],[fellaBlue2,"blue"]]
  .forEach(function(s){ drawLine(axB, s[0], mlColors[s[1]], 1.2); });
drawLine(axB, fellaMean, "#000", 4);

addText(30, 30, "a", 29, {anchor: "start", bold: true, fill: "#000"});
addText(477, 30, "b", 29, {anchor: "start", bold: true, fill: "#000"});
addText(289, 53, "All QCAPE-proxy projections, Barcelonnette", 17.5);
addText(690, 53, "All QCAPE-proxy projections, Fella River", 17.5);
addText(282, 400, "Year", 16);
addText(690, 402, "Year", 16);
addText(40, 213, "Change in debris-flow days", 16, {rotate: true});
addText(57, 217, "(relative to  1980-2009)", 16, {rotate: true}).attr("xml:space", "preserve");

// ---- panels c-f ----
var smallLefts = [59, 282, 504, 728];
var titleX = [136, 371, 596, 818];
var letterX = [59, 282, 502, 724];
var letters = ["c","d","e","f"];
var barcPanels = [
  {q85: canBarcQ85, q45: canBarcQ45, rr85: [canBarcRR85a, canBarcRR85b], rr45: [canBarcRR45a, canBarcRR45b]},
  {q85: cnrmBarcQ85, q45: cnrmBarcQ45, rr85: [cnrmBarcRR85a, cnrmBarcRR85b], rr45: [cnrmBarcRR45a, cnrmBarcRR45b]},
  {q85: gfdlBarcQ85, q45: gfdlBarcQ45, rr85: [gfdlBarcRR85a, gfdlBarcRR85b], rr45: [gfdlBarcRR45a, gfdlBarcRR45b]},
  {q85: ipslBarcQ85, q45: ipslBarcQ45, rr85: [ipslBarcRR85a, ipslBarcRR85b], rr45: [ipslBarcRR45a, ipslBarcRR45b]}
];
var fellaPanels = [
  {q85: canFellaQ85, q45: canFellaQ45, rr85: [canFellaRR85a, canFellaRR85b], rr45: [canFellaRR45a, canFellaRR45b]},
  {q85: cnrmFellaQ85, q45: cnrmFellaQ45, rr85: [cnrmFellaRR85a, cnrmFellaRR85b], rr45: [cnrmFellaRR45a, cnrmFellaRR45b]},
  {q85: gfdlFellaQ85, q45: gfdlFellaQ45, rr85: [gfdlFellaRR85a, gfdlFellaRR85b], rr45: [gfdlFellaRR45a, gfdlFellaRR45b]},
  {q85: ipslFellaQ85, q45: ipslFellaQ45, rr85: [ipslFellaRR85a, ipslFellaRR85b], rr45: [ipslFellaRR45a, ipslFellaRR45b]}
];

function smallPanel(left, top, p){
  var ax = makeAxes({left: left, top: top, width: 202, height: 159, xDomain: [1973, 2084.4], yDomain: [-0.4, 1],
    yTicks: smallYTicks, tickLen: 2.5, xPad: 5, yPad: 4, fontSize: 7, bold: true});
  p.rr85.forEach(function(d){ drawLine(ax, d, scenColors.rr85, 1); });
  p.rr45.forEach(function(d){ drawLine(ax, d, scenColors.rr45, 1); });
  drawLine(ax, p.q85, scenColors.q85, 2.6);
  drawLine(ax, p.q45, scenColors.q45, 2.6);
}

smallLefts.forEach(function(l, i){
  smallPanel(l, 471, barcPanels[i]);
  smallPanel(l, 731, fellaPanels[i]);
  addText(titleX[i], 460, modelNames[i], 17);
  addText(letterX[i], 440, letters[i], 33, {anchor: "start", bold: true, fill: "#000"});
});

addText(19, 555, "Change Barcelonnette", 16, {rotate: true});
addText(34, 555, "(relative to  1980-2009)", 16, {rotate: true}).attr("xml:space", "preserve");
addText(19, 817, "Change Fella River", 16, {rotate: true});
addText(34, 817, "(relative to  1980-2009)", 16, {rotate: true}).attr("xml:space", "preserve");

// ---- legend ----
var legendX = [218, 357, 470, 617];
var legendTextX = [255, 391, 511, 649];
legendLabels.forEach(function(lab, i){
  svg.append("line").attr("x1", legendX[i]).attr("x2", legendX[i] + 24)
    .attr("y1", 694).attr("y2", 694)
    .attr("stroke", legendColors[i]).attr("stroke-width", 2);
  addText(legendTextX[i], 699.5, lab, 15, {anchor: "start"});
});
</script>
</body>
</html>
